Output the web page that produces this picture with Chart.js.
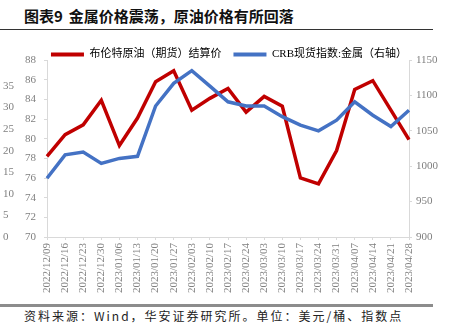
<!DOCTYPE html>
<html>
<head>
<meta charset="utf-8">
<script src="https://cdn.jsdelivr.net/npm/chart.js@4"></script>
<style>
  body { margin: 0; background: #fff; }
  #page { position: relative; width: 455px; height: 331px; overflow: hidden; }
  #title {
    position: absolute; left: 24px; top: 5px;
    font: bold 15px "Noto Sans CJK SC", sans-serif; color: #111;
    white-space: nowrap;
  }
  #title span { margin-right: 6px; }
  #rule-top { position: absolute; left: 0; top: 29px; width: 433px; height: 1px; background: #333; }
  #rule-bottom { position: absolute; left: 0; top: 304px; width: 433px; height: 2.5px; background: #8c8c8c; }
  #source {
    position: absolute; left: 24px; top: 307px;
    font: 12px "Noto Sans CJK SC", sans-serif; color: #222;
    letter-spacing: 2px; white-space: nowrap;
  }
  #wrap { position: absolute; left: 0; top: 27px; width: 455px; height: 275px; }
</style>
</head>
<body>
<div id="page">
  <div id="title"><span>图表9</span>金属价格震荡，原油价格有所回落</div>
  <div id="rule-top"></div>
  <div id="wrap"><canvas id="myChart"></canvas></div>
  <div id="rule-bottom"></div>
  <div id="source">资料来源：Wind，华安证券研究所。单位：美元/桶、指数点</div>
</div>
<script>
const dates = [
  "2022/12/09", "2022/12/16", "2022/12/23", "2022/12/30", "2023/01/06",
  "2023/01/13", "2023/01/20", "2023/01/27", "2023/02/03", "2023/02/10",
  "2023/02/17", "2023/02/24", "2023/03/03", "2023/03/10", "2023/03/17",
  "2023/03/24", "2023/03/31", "2023/04/07", "2023/04/14", "2023/04/21",
  "2023/04/28"
];

// Brent futures settlement, USD/bbl (left axis)
const brent = [
  78.2, 80.4, 81.4, 83.9, 79.3, 82.1, 85.8, 86.9, 82.9, 84.1,
  85.1, 82.7, 84.3, 83.3, 76.0, 75.4, 78.8, 85.0, 85.9, 82.9,
  79.9
];

// CRB spot index: metals (right axis)
const crbMetals = [
  983, 1016, 1020, 1004, 1011, 1014, 1085, 1117, 1135, 1113,
  1091, 1085, 1085, 1070, 1058, 1050, 1065, 1091, 1072, 1056,
  1079
];

const labelGray = "#808080";
const axisGray = "#d9d9d9";
const numFont = { family: "'Liberation Serif', 'Times New Roman', serif", size: 11 };

// nudge the legend row down toward the plot
const legendShift = {
  id: "legendShift",
  afterLayout(chart) {
    if (chart.legend) chart.legend.top += 10;
  }
};

const ctx = document.getElementById("myChart").getContext("2d");

new Chart(ctx, {
  type: "line",
  data: {
    labels: dates,
    datasets: [
      {
        label: "布伦特原油（期货）结算价",
        data: brent,
        borderColor: "#c00000",
        backgroundColor: "#c00000",
        borderWidth: 3.5,
        pointRadius: 0,
        tension: 0,
        yAxisID: "y",
        order: 1
      },
      {
        label: "CRB现货指数:金属（右轴）",
        data: crbMetals,
        borderColor: "#4472c4",
        backgroundColor: "#4472c4",
        borderWidth: 3.5,
        pointRadius: 0,
        tension: 0,
        yAxisID: "y1",
        order: 0
      }
    ]
  },
  plugins: [legendShift],
  options: {
    responsive: true,
    maintainAspectRatio: false,
    animation: false,
    layout: { padding: { left: 3, right: 0, top: 0, bottom: 0 } },
    plugins: {
      tooltip: { enabled: false },
      legend: {
        position: "top",
        labels: {
          boxWidth: 33,
          boxHeight: 4,
          padding: 12,
          color: "#6e6e6e",
          font: { family: "'Liberation Serif', 'Noto Sans CJK SC', serif", size: 11 },
          generateLabels: chart => chart.data.datasets.map((ds, i) => ({
            text: ds.label,
            fillStyle: ds.borderColor,
            strokeStyle: ds.borderColor,
            lineWidth: 0,
            hidden: false,
            datasetIndex: i
          }))
        }
      }
    },
    scales: {
      x: {
        offset: false,
        grid: { display: true, drawOnChartArea: false, color: axisGray, tickLength: 3 },
        border: { color: axisGray },
        ticks: {
          autoSkip: false,
          minRotation: 90,
          maxRotation: 90,
          padding: 3,
          color: labelGray,
          font: numFont
        },
        afterFit: s => { s.height = 65; }
      },
      y: {
        position: "left",
        weight: 0,
        min: 70,
        max: 88,
        ticks: { stepSize: 2, padding: 8, color: labelGray, font: numFont },
        grid: { drawOnChartArea: false, color: axisGray, tickLength: 3 },
        border: { color: axisGray },
        afterFit: s => { s.width = 23; }
      },
      y0: {
        position: "left",
        weight: 1,
        min: 0,
        max: 41,
        ticks: { stepSize: 5, crossAlign: "far", color: labelGray, font: numFont },
        afterBuildTicks: s => { s.ticks = s.ticks.filter(t => t.value <= 35); },
        grid: { display: false },
        border: { display: false },
        afterFit: s => { s.width = 21; }
      },
      y1: {
        position: "right",
        min: 900,
        max: 1150,
        ticks: {
          stepSize: 50,
          padding: 4,
          color: labelGray,
          font: numFont,
          callback: v => String(v)
        },
        grid: { drawOnChartArea: false, color: axisGray, tickLength: 3 },
        border: { color: axisGray },
        afterFit: s => { s.width = 46; }
      }
    }
  }
});
</script>
</body>
</html>
